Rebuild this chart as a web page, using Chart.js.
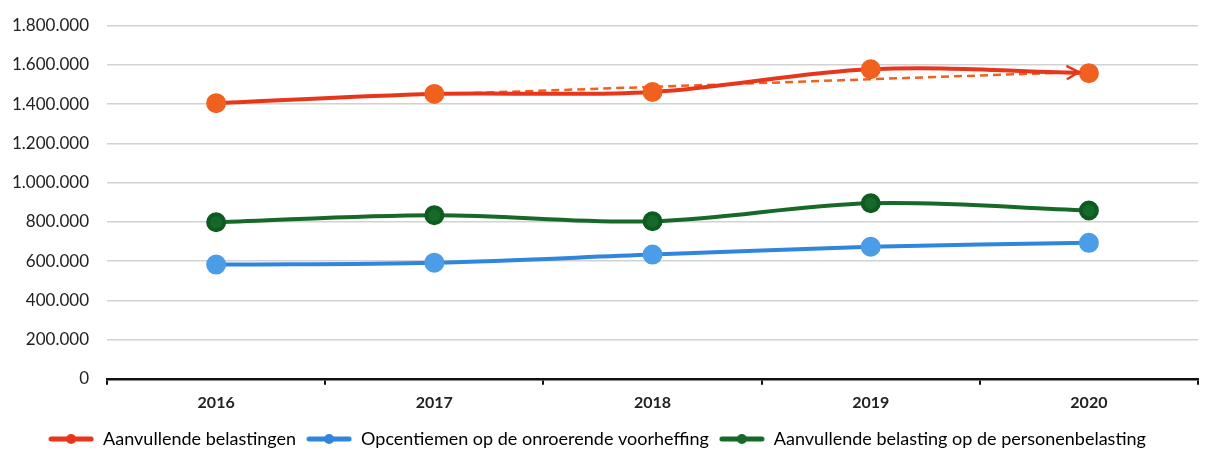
<!DOCTYPE html>
<html>
<head>
<meta charset="utf-8">
<script src="https://cdn.jsdelivr.net/npm/chart.js@4"></script>
<style>
  html, body { margin: 0; padding: 0; background: #fff; }
  #wrap { width: 1210px; height: 455px; }
</style>
</head>
<body>
<div id="wrap"><canvas id="mainChart"></canvas></div>
<script>
const years = ['2016', '2017', '2018', '2019', '2020']
const aanvullendeBelastingen = [1405000, 1452000, 1462000, 1578000, 1558000]
const opcentiemen = [582000, 592000, 633000, 673000, 693000]
const personenbelasting = [798000, 834000, 803000, 895000, 858000]
const trend = [null, 1450000, 1488000, 1527000, 1565000]
const yTicks = [0, 200000, 400000, 600000, 800000, 1000000, 1200000, 1400000, 1600000, 1800000]

const red = '#e8361c'
const redDot = '#f0601e'
const blue = '#2f86dc'
const blueDot = '#4b9de8'
const green = '#17692a'
const fontFam = 'Lato, "Open Sans", sans-serif'

function legendIcon(color) {
    const c = document.createElement('canvas')
    c.width = 46; c.height = 12
    const ctx = c.getContext('2d')
    ctx.strokeStyle = color
    ctx.lineWidth = 5
    ctx.lineCap = 'round'
    ctx.beginPath(); ctx.moveTo(3, 6); ctx.lineTo(43, 6); ctx.stroke()
    ctx.fillStyle = color
    ctx.beginPath(); ctx.arc(23, 6, 5, 0, Math.PI * 2); ctx.fill()
    return c
}

const arrowPlugin = {
    id: 'arrowHead',
    afterDatasetsDraw(chart) {
        const meta = chart.getDatasetMeta(3)
        const pts = meta.data.filter(p => !p.skip)
        if (pts.length < 2) return
        const a = pts[pts.length - 2], b = pts[pts.length - 1]
        const ang = Math.atan2(b.y - a.y, b.x - a.x)
        const tx = b.x - 10 * Math.cos(ang), ty = b.y - 10 * Math.sin(ang)
        const ctx = chart.ctx
        ctx.save()
        ctx.strokeStyle = red
        ctx.lineWidth = 2.5
        ctx.beginPath()
        ctx.moveTo(tx - 14 * Math.cos(ang - 0.5), ty - 14 * Math.sin(ang - 0.5))
        ctx.lineTo(tx, ty)
        ctx.lineTo(tx - 14 * Math.cos(ang + 0.5), ty - 14 * Math.sin(ang + 0.5))
        ctx.stroke()
        ctx.restore()
    }
}

const chartData = {
    labels: years,
    datasets: [
        {
            label: 'Aanvullende belastingen',
            data: aanvullendeBelastingen,
            borderColor: red,
            backgroundColor: redDot,
            pointBackgroundColor: redDot,
            pointBorderColor: redDot,
            pointRadius: 8,
            borderWidth: 4,
            tension: 0.35,
            legendIcon: legendIcon(red)
        },
        {
            label: 'Opcentiemen op de onroerende voorheffing',
            data: opcentiemen,
            borderColor: blue,
            backgroundColor: blueDot,
            pointBackgroundColor: blueDot,
            pointBorderColor: blueDot,
            pointRadius: 8,
            borderWidth: 4,
            tension: 0.35,
            legendIcon: legendIcon(blue)
        },
        {
            label: 'Aanvullende belasting op de personenbelasting',
            data: personenbelasting,
            borderColor: green,
            backgroundColor: green,
            pointBackgroundColor: green,
            pointBorderColor: '#0f5a20',
            pointRadius: 8,
            borderWidth: 4,
            tension: 0.35,
            legendIcon: legendIcon(green)
        },
        {
            label: 'trend',
            data: trend,
            borderColor: redDot,
            borderDash: [8, 5],
            borderWidth: 2.5,
            pointRadius: 0,
            tension: 0
        }
    ]
}

new Chart('mainChart', {
    type: 'line',
    data: chartData,
    options: {
        responsive: true,
        maintainAspectRatio: false,
        animation: false,
        layout: { padding: { top: 0, right: 10, left: -6, bottom: -3 } },
        plugins: {
            legend: {
                position: 'bottom',
                labels: {
                    usePointStyle: true,
                    pointStyleWidth: 46,
                    padding: 10,
                    color: '#222',
                    font: { family: fontFam, size: 18 },
                    filter: item => item.datasetIndex < 3,
                    generateLabels(chart) {
                        return chart.data.datasets.map((ds, i) => ({
                            text: ds.label,
                            pointStyle: ds.legendIcon,
                            fillStyle: ds.borderColor,
                            strokeStyle: ds.borderColor,
                            lineWidth: 0,
                            hidden: false,
                            datasetIndex: i
                        }))
                    }
                }
            },
            tooltip: { enabled: false }
        },
        scales: {
            x: {
                offset: true,
                grid: {
                    drawOnChartArea: false,
                    drawTicks: true,
                    tickLength: 6,
                    color: '#111',
                    lineWidth: 2,
                    offset: true
                },
                border: { color: '#111', width: 2.5 },
                ticks: {
                    color: '#222',
                    padding: 8,
                    font: { family: fontFam, size: 16, weight: 'bold' }
                }
            },
            y: {
                min: 0,
                max: 1800000,
                afterBuildTicks: axis => { axis.ticks = yTicks.map(v => ({ value: v })) },
                grid: { color: '#d2d2d2', lineWidth: 1.5, drawTicks: false },
                border: { display: false },
                ticks: {
                    color: '#222',
                    padding: 18,
                    font: { family: fontFam, size: 17, lineHeight: 0.9 },
                    callback: v => String(v).replace(/\B(?=(\d{3})+(?!\d))/g, '.')
                }
            }
        }
    },
    plugins: [arrowPlugin]
})
</script>
</body>
</html>
